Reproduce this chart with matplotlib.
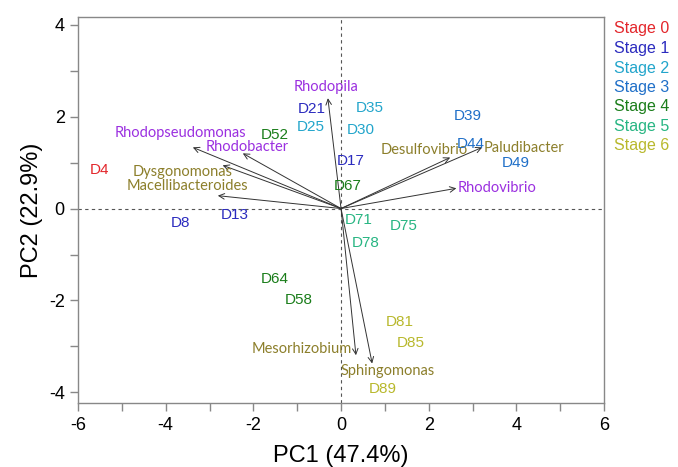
import matplotlib
matplotlib.use('Agg')
import matplotlib.pyplot as plt

plt.rcParams['axes.unicode_minus'] = False

# sample scores (PC1, PC2) and their stage
samples = ['D4', 'D8', 'D13', 'D17', 'D21', 'D25', 'D30', 'D35', 'D39', 'D44', 'D49',
           'D52', 'D58', 'D64', 'D67', 'D71', 'D75', 'D78', 'D81', 'D85', 'D89']
pc1 = [-5.51, -3.66, -2.42, 0.21, -0.66, -0.69, 0.46, 0.66, 2.88, 2.95, 3.98,
       -1.51, -0.96, -1.51, 0.16, 0.41, 1.44, 0.57, 1.35, 1.58, 0.96]
pc2 = [0.83, -0.31, -0.15, 1.03, 2.16, 1.77, 1.70, 2.19, 2.01, 1.40, 0.98,
       1.60, -1.99, -1.53, 0.50, -0.24, -0.39, -0.74, -2.47, -2.93, -3.93]
stage = [0, 1, 1, 1, 1, 2, 2, 2, 3, 3, 3, 4, 4, 4, 4, 5, 5, 5, 6, 6, 6]

stage_names = ['Stage 0', 'Stage 1', 'Stage 2', 'Stage 3', 'Stage 4', 'Stage 5', 'Stage 6']
stage_colors = ['#e3262b', '#2b2bbf', '#22a5cb', '#1f6fc8', '#1a7d1a', '#27b582', '#b8b82c']

# genus loadings: arrow tips and label centres
genera = ['Rhodopila', 'Rhodopseudomonas', 'Rhodobacter', 'Dysgonomonas', 'Macellibacteroides',
          'Desulfovibrio', 'Paludibacter', 'Rhodovibrio', 'Mesorhizobium', 'Sphingomonas']
tip_x = [-0.30, -3.38, -2.24, -2.70, -2.81, 2.49, 3.22, 2.63, 0.34, 0.71]
tip_y = [2.40, 1.33, 1.20, 0.94, 0.28, 1.11, 1.33, 0.44, -3.19, -3.37]
lab_x = [-0.34, -3.66, -2.13, -3.61, -3.50, 1.90, 4.18, 3.57, -0.89, 1.07]
lab_y = [2.64, 1.64, 1.33, 0.79, 0.48, 1.27, 1.31, 0.44, -3.06, -3.54]
genus_kind = ['p', 'p', 'p', 'o', 'o', 'o', 'o', 'p', 'o', 'o']
kind_colors = {'p': '#9b30e0', 'o': '#8c7f2b'}

fig = plt.figure(figsize=(6.78, 4.67), dpi=100)
ax = fig.add_axes([0.115, 0.136, 0.776, 0.828])

ax.axhline(0, color='#555555', lw=0.8, ls=(0, (3, 3)))
ax.axvline(0, color='#555555', lw=0.8, ls=(0, (3, 3)))

for g, tx, ty, lx, ly, k in zip(genera, tip_x, tip_y, lab_x, lab_y, genus_kind):
    ax.annotate('', xy=(tx, ty), xytext=(0, 0),
                arrowprops=dict(arrowstyle='->', color='#333333', lw=0.7,
                                shrinkA=0, shrinkB=0, mutation_scale=10))
    ax.text(lx, ly, g, color=kind_colors[k], fontsize=10.5, family='Lato',
            ha='center', va='center')

for s, x, y, st in zip(samples, pc1, pc2, stage):
    ax.text(x, y, s, color=stage_colors[st], fontsize=11, family='Liberation Sans',
            ha='center', va='center')

ax.set_xlim(-6, 6)
ax.set_ylim(-4.24, 4.17)
ax.set_xticks(range(-6, 7, 2))
ax.set_xticks(range(-5, 6, 2), minor=True)
ax.set_yticks(range(-4, 5, 2))
ax.set_yticks(range(-3, 4, 2), minor=True)
for sp in ax.spines.values():
    sp.set_color('#888888')
    sp.set_linewidth(1.0)
ax.tick_params(which='both', color='#888888', length=6, width=1.0, direction='out')
ax.tick_params(labelsize=13)
for lab in ax.get_xticklabels() + ax.get_yticklabels():
    lab.set_family('Liberation Sans')

ax.set_xlabel('PC1 (47.4%)', fontsize=17, family='Liberation Sans', labelpad=8)
ax.set_ylabel('PC2 (22.9%)', fontsize=17, family='Liberation Sans', labelpad=4)

# stage legend as coloured text to the right of the plot
for i, (name, c) in enumerate(zip(stage_names, stage_colors)):
    fig.text(614 / 678, 1 - (29 + 19.5 * i) / 467, name, color=c, fontsize=11.5,
             family='Liberation Sans', ha='left', va='center')

fig.savefig('out.png', dpi=100)
